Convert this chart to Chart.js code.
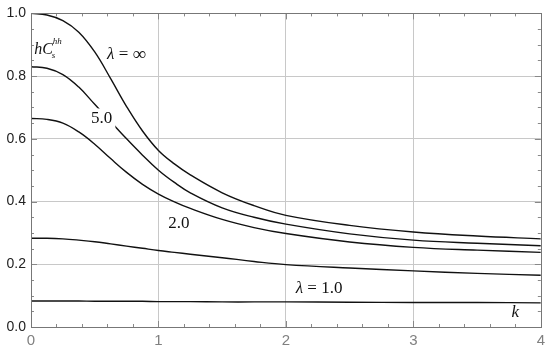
<!DOCTYPE html>
<html>
<head>
<meta charset="utf-8">
<script src="https://cdn.jsdelivr.net/npm/chart.js@4"></script>
<style>
  html, body { margin: 0; padding: 0; background: #fff; }
  #wrap { width: 550px; height: 352px; }
</style>
</head>
<body>
<div id="wrap"><canvas id="chart" width="550" height="352"></canvas></div>
<script>
// k values shared by every curve
const kValues = [0, 0.125, 0.25, 0.375, 0.5, 0.625, 0.75, 0.875, 1.0, 1.125, 1.25, 1.5, 1.75, 2.0, 2.5, 3.0, 3.5, 4.0];

// hC for each lambda
const lambdaInf = [1.0, 0.995, 0.977, 0.94, 0.877, 0.792, 0.703, 0.625, 0.563, 0.52, 0.485, 0.428, 0.387, 0.356, 0.324, 0.303, 0.29, 0.281];
const lambda5 = [0.83, 0.825, 0.805, 0.765, 0.71, 0.655, 0.60, 0.548, 0.50, 0.461, 0.428, 0.38, 0.35, 0.328, 0.297, 0.277, 0.267, 0.259];
const lambda2 = [0.665, 0.662, 0.65, 0.622, 0.583, 0.537, 0.493, 0.455, 0.424, 0.399, 0.378, 0.343, 0.317, 0.298, 0.271, 0.254, 0.245, 0.238];
const lambda1 = [0.283, 0.283, 0.281, 0.277, 0.272, 0.265, 0.258, 0.251, 0.244, 0.238, 0.232, 0.221, 0.209, 0.199, 0.188, 0.179, 0.171, 0.165];
const lambdaLow = [0.083, 0.083, 0.083, 0.083, 0.082, 0.082, 0.082, 0.082, 0.081, 0.081, 0.081, 0.080, 0.080, 0.080, 0.079, 0.078, 0.078, 0.077];

const xTicks = [0, 1, 2, 3, 4];
const yTicks = [0, 0.2, 0.4, 0.6, 0.8, 1.0];

const toPoints = ys => kValues.map((k, i) => ({ x: k, y: ys[i] }));

const curve = ys => ({
    data: toPoints(ys),
    borderColor: '#111',
    borderWidth: 1.4,
    pointRadius: 0,
    tension: 0.4,
    fill: false
});

// minor tick marks on the frame, inward like the original
const frameTicks = {
    id: 'frameTicks',
    afterDraw(chart) {
        const { ctx, chartArea: a, scales: { x, y } } = chart;
        ctx.save();
        ctx.strokeStyle = '#888';
        ctx.lineWidth = 1;
        ctx.beginPath();
        for (let v = 0; v <= 4.0001; v += 0.2) {
            const px = Math.round(x.getPixelForValue(v)) + 0.5;
            const len = Math.abs(v - Math.round(v)) < 1e-6 ? 6 : 3;
            ctx.moveTo(px, a.bottom); ctx.lineTo(px, a.bottom - len);
            ctx.moveTo(px, a.top); ctx.lineTo(px, a.top + len);
        }
        for (let v = 0; v <= 1.0001; v += 0.05) {
            const py = Math.round(y.getPixelForValue(v)) + 0.5;
            const major = Math.abs(v * 5 - Math.round(v * 5)) < 1e-6;
            const len = major ? 6 : 3;
            ctx.moveTo(a.left, py); ctx.lineTo(a.left + len, py);
            ctx.moveTo(a.right, py); ctx.lineTo(a.right - len, py);
        }
        ctx.stroke();
        ctx.strokeStyle = '#777';
        ctx.strokeRect(Math.round(a.left) + 0.5, Math.round(a.top) + 0.5,
            Math.round(a.right - a.left), Math.round(a.bottom - a.top));
        ctx.restore();
    }
};

// curve labels placed in data coordinates
const curveLabels = {
    id: 'curveLabels',
    afterDatasetsDraw(chart) {
        const { ctx, scales: { x, y } } = chart;
        const serif = '"Liberation Serif", "Times New Roman", serif';
        ctx.save();
        ctx.fillStyle = '#111';
        ctx.textBaseline = 'middle';

        const put = (parts, kx, vy, clear) => {
            let px = x.getPixelForValue(kx);
            const py = y.getPixelForValue(vy);
            let w = 0;
            parts.forEach(p => { ctx.font = p[1]; w += ctx.measureText(p[0]).width; });
            px -= w / 2;
            if (clear) {
                ctx.fillStyle = '#fff';
                ctx.fillRect(px - 3, py - 10, w + 6, 20);
                ctx.fillStyle = '#111';
            }
            ctx.textAlign = 'left';
            parts.forEach(p => {
                ctx.font = p[1];
                ctx.fillText(p[0], px, py);
                px += ctx.measureText(p[0]).width;
            });
        };

        const it = 'italic 17px ' + serif;
        const rm = '17px ' + serif;
        put([['λ', it], [' = ', rm], ['∞', '19px ' + serif]], 0.75, 0.868);
        put([['5.0', rm]], 0.555, 0.665, true);
        put([['2.0', rm]], 1.16, 0.33);
        put([['λ', it], [' = 1.0', rm]], 2.26, 0.122);
        put([['k', it]], 3.8, 0.045);

        // axis label hC_s^hh
        ctx.textAlign = 'left';
        ctx.font = 'italic 16px ' + serif;
        const lx = x.getPixelForValue(0.025);
        const ly = y.getPixelForValue(0.885);
        ctx.fillText('hC', lx, ly);
        const wHC = ctx.measureText('hC').width;
        ctx.font = 'italic 9px ' + serif;
        ctx.fillText('s', lx + wHC - 1, ly + 6);
        ctx.fillText('hh', lx + wHC, ly - 8);
        ctx.restore();
    }
};

new Chart(document.getElementById('chart'), {
    type: 'line',
    data: {
        datasets: [
            curve(lambdaInf),
            curve(lambda5),
            curve(lambda2),
            curve(lambda1),
            curve(lambdaLow)
        ]
    },
    options: {
        responsive: false,
        animation: false,
        layout: { padding: { top: 11, right: 8, left: 0, bottom: 0 } },
        plugins: {
            legend: { display: false },
            tooltip: { enabled: false }
        },
        scales: {
            x: {
                type: 'linear',
                min: 0,
                max: 4,
                afterBuildTicks: s => { s.ticks = xTicks.map(v => ({ value: v })); },
                afterFit: s => { s.height = 25; },
                border: { display: false },
                grid: {
                    color: c => (c.tick.value === 0 || c.tick.value === 4) ? 'rgba(0,0,0,0)' : '#c8c8c8',
                    drawTicks: false
                },
                ticks: {
                    color: '#808080',
                    padding: 5,
                    font: { family: '"Liberation Sans", Arial, sans-serif', size: 15 },
                    callback: v => String(v)
                }
            },
            y: {
                min: 0,
                max: 1,
                afterBuildTicks: s => { s.ticks = yTicks.map(v => ({ value: v })); },
                afterFit: s => { s.width = 31; },
                border: { display: false },
                grid: {
                    color: c => (c.tick.value === 0 || c.tick.value === 1) ? 'rgba(0,0,0,0)' : '#c8c8c8',
                    drawTicks: false
                },
                ticks: {
                    color: '#222',
                    padding: 5,
                    font: { family: '"Liberation Sans", Arial, sans-serif', size: 14 },
                    callback: v => v.toFixed(1)
                }
            }
        }
    },
    plugins: [frameTicks, curveLabels]
});
</script>
</body>
</html>
